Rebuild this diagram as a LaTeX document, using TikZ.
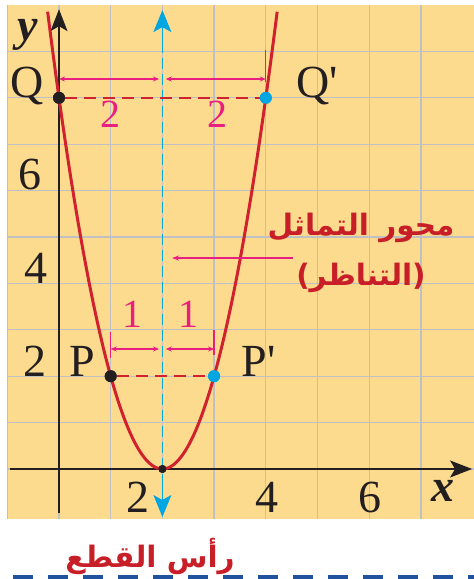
\documentclass[tikz,border=0pt]{standalone}
\usepackage{fontspec}
\setmainfont{Liberation Serif}
\newfontfamily\lab{Liberation Serif}
\newfontfamily\arabicfont[Script=Arabic]{DejaVu Sans}
\newfontfamily\parenfont{DejaVu Sans}
\TeXXeTstate=1
\usetikzlibrary{arrows.meta}
\definecolor{bgc}{RGB}{253,219,142}
\definecolor{gridc}{RGB}{192,192,196}
\definecolor{curvec}{RGB}{208,34,46}
\definecolor{cyanc}{RGB}{0,166,226}
\definecolor{magc}{RGB}{232,30,128}
\definecolor{arc}{RGB}{200,30,40}
\definecolor{bluec}{RGB}{32,82,158}
\definecolor{inkc}{RGB}{35,31,32}
\begin{document}
\begin{tikzpicture}[x=51.7pt,y=46.4pt,
  gridline/.style={gridc, line width=1.3pt},
  axisline/.style={inkc, line width=1.3pt, -{Stealth[length=22pt,width=17pt,inset=5pt]}},
  curve/.style={curvec, line width=3pt},
  reddash/.style={curvec, line width=1.8pt, dash pattern=on 12pt off 7pt},
  symaxis/.style={cyanc, line width=1.5pt, dash pattern=on 11pt off 5pt},
  cyantip/.style={cyanc, line width=1.5pt, -{Stealth[length=22pt,width=18pt,inset=5pt]}},
  dim/.style={magc, line width=1.3pt, {Stealth[length=6pt,width=5pt]}-{Stealth[length=6pt,width=5pt]}},
  dimtick/.style={magc, line width=1.3pt},
  pointer/.style={magc, line width=1.3pt, -{Stealth[length=7pt,width=5pt]}},
  dotblack/.style={circle, fill=inkc, inner sep=0pt, minimum size=12pt},
  dotcyan/.style={circle, fill=cyanc, inner sep=0pt, minimum size=12pt},
  dotsmall/.style={circle, fill=inkc, inner sep=0pt, minimum size=8pt},
  lbl/.style={font=\lab\fontsize{46}{46}\selectfont, text=inkc, inner sep=0pt, anchor=base},
  axlbl/.style={font=\lab\fontsize{46}{46}\selectfont\bfseries\itshape, text=inkc, inner sep=0pt},
  maglbl/.style={font=\lab\fontsize{40}{40}\selectfont, text=magc, inner sep=0pt, anchor=base},
  artxt/.style={font=\arabicfont\fontsize{29.5}{30}\selectfont\bfseries, text=arc, inner sep=0pt},
  bottomdash/.style={bluec, line width=4pt, dash pattern=on 20pt off 15pt}]
\useasboundingbox (-1.1412,-2.3707) rectangle (8.0271,10.1078);
% background and grid
\fill[bgc] (-1,-1.078) rectangle (8.03,10);
\foreach \i in {-1,...,7} \draw[gridline] (\i,-1.078) -- (\i,10);
\foreach \j in {0,...,9} \draw[gridline] (-1,\j) -- (8.03,\j);
% axes
\coordinate (xs) at (-0.95,0);
\coordinate (xe) at (7.99,0);
\coordinate (ys) at (0,-0.95);
\coordinate (ye) at (0,9.91);
\draw[axisline] (xs) -- (xe);
\draw[axisline] (ys) -- (ye);
% axis of symmetry
\coordinate (st) at (2,9.89);
\coordinate (sb) at (2,-1.034);
\coordinate (st0) at (2,9.2);
\coordinate (sb0) at (2,-0.35);
\draw[symaxis] (st0) -- (sb0);
\draw[cyantip] (st0) -- (st);
\draw[cyantip] (sb0) -- (sb);
% points
\node[dotblack] (Q) at (0,8) {};
\node[dotcyan] (Qp) at (4,8) {};
\node[dotblack] (P) at (1,2) {};
\node[dotcyan] (Pp) at (3,2) {};
\node[dotsmall] (V) at (2,0) {};
% dashed chords
\draw[reddash] (Q) -- (Qp);
\draw[reddash] (P) -- (Pp);
% parabola
\draw[curve] plot[domain=-0.22:4.22, samples=120] (\x, {2*(\x-2)^2});
% redraw dots on top
\node[dotblack] at (Q) {};
\node[dotcyan] at (Qp) {};
\node[dotblack] at (P) {};
\node[dotcyan] at (Pp) {};
\node[dotsmall] at (V) {};
% dimension lines Q
\coordinate (qa) at (0,8.405);
\coordinate (qb) at (1.935,8.405);
\coordinate (qc) at (2.065,8.405);
\coordinate (qd) at (4,8.405);
\coordinate (qt1) at (4,8.34);
\coordinate (qt2) at (4,9.03);
\draw[dim] (qa) -- (qb);
\draw[dim] (qc) -- (qd);
\draw[dimtick] (qt1) -- (qt2);
\node[maglbl] (n2a) at (0.99,7.35) {2};
\node[maglbl] (n2b) at (3.06,7.35) {2};
% dimension lines P
\coordinate (pa) at (1,2.586);
\coordinate (pb) at (1.935,2.586);
\coordinate (pc) at (2.065,2.586);
\coordinate (pd) at (3,2.586);
\coordinate (pt1) at (1,2.39);
\coordinate (pt2) at (1,2.95);
\coordinate (pt3) at (3,2.45);
\coordinate (pt4) at (3,3.0);
\draw[dim] (pa) -- (pb);
\draw[dim] (pc) -- (pd);
\draw[dimtick] (pt1) -- (pt2);
\draw[dimtick] (pt3) -- (pt4);
\node[maglbl] (n1a) at (1.42,3.04) {1};
\node[maglbl] (n1b) at (2.50,3.04) {1};
% labels
\node[axlbl] (ylab) at (-0.60,9.36) {y};
\node[axlbl] (xlab) at (7.43,-0.47) {x};
\node[lbl] (Qlab) at (-0.62,8.0) {Q};
\node[lbl] (Qplab) at (5.0,8.0) {Q'};
\node[lbl] (Plab) at (0.46,2.0) {P};
\node[lbl] (Pplab) at (3.86,2.0) {P'};
\node[lbl] (y6) at (-0.56,6.03) {6};
\node[lbl] (y4) at (-0.45,4.0) {4};
\node[lbl] (y2) at (-0.46,2.0) {2};
\node[lbl] (x2) at (1.53,-0.93) {2};
\node[lbl] (x4) at (4.02,-0.93) {4};
\node[lbl] (x6) at (6.02,-0.93) {6};
% arabic labels
\node[artxt] (ar1) at (5.841,5.194) {\beginR محور التماثل\endR};
\node[artxt] (ar2) at (5.841,4.116) {{\parenfont(}\beginR التناظر\endR{\parenfont)}};
\coordinate (ps) at (4.526,4.547);
\coordinate (pe) at (2.186,4.547);
\draw[pointer] (ps) -- (pe);
\node[artxt] (ar3) at (1.76,-1.875) {\beginR رأس القطع\endR};
% bottom dashed rule
\coordinate (bd1) at (-0.89,-2.3276);
\coordinate (bd2) at (8.03,-2.3276);
\draw[bottomdash] (bd1) -- (bd2);
\end{tikzpicture}
\end{document}
